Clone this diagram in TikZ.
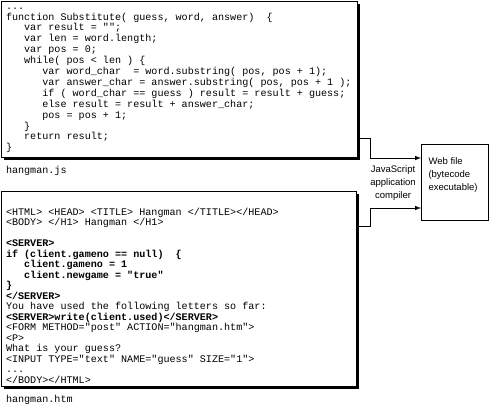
\documentclass[tikz,border=0pt]{standalone}
\usepackage{fontspec}
\setmainfont{Liberation Sans}
\setmonofont{Liberation Mono}
\usetikzlibrary{arrows,shadows,positioning}

\begin{document}
\begin{tikzpicture}[x=1pt, y=-1pt, line width=1pt]
	\tikzstyle{every node} = [inner sep=0pt, anchor=north west]
	\tikzstyle{shadowbox} = [draw, fill=white, drop shadow={shadow xshift=2pt, shadow yshift=-2pt, opacity=1, fill=black}]
	\tikzstyle{code} = [align=left, font=\ttfamily\fontsize{10.1}{10.9}\selectfont]
	\tikzstyle{label} = [anchor=base west, font=\ttfamily\fontsize{10.1}{10.9}\selectfont]
\useasboundingbox (0,0) rectangle (489,405);
\node[shadowbox, minimum width=356, minimum height=156] (js) at (1,1) {};
\node[shadowbox, minimum width=355, minimum height=195] (htm) at (1,191) {};
\node[draw, minimum width=67, minimum height=76] (web) at (421,144) {};
\node[code] (jscode) at (5.5,1) {\strut...\\
function Substitute( guess, word, answer)~ \{\\
~~~var result = "";\\
~~~var len = word.length;\\
~~~var pos = 0;\\
~~~while( pos < len ) \{\\
~~~~~~var word\_char~ = word.substring( pos, pos + 1);\\
~~~~~~var answer\_char = answer.substring( pos, pos + 1 );\\
~~~~~~if ( word\_char == guess ) result = result + guess;\\
~~~~~~else result = result + answer\_char;\\
~~~~~~pos = pos + 1;\\
~~~\}\\
~~~return result;\\
\}};
\node[code, font=\ttfamily\fontsize{10.1}{10.5}\selectfont] (htmcode) at (5.5,207.6) {\strut<HTML> <HEAD> <TITLE> Hangman </TITLE></HEAD>\\
<BODY> </H1> Hangman </H1>\\
\\
\textbf{<SERVER>}\\
\textbf{if (client.gameno == null)~ \{}\\
\textbf{~~~client.gameno = 1}\\
\textbf{~~~client.newgame = "true"}\\
\textbf{\}}\\
\textbf{</SERVER>}\\
You have used the following letters so far:\\
\textbf{<SERVER>write(client.used)</SERVER>}\\
<FORM METHOD="post" ACTION="hangman.htm">\\
<P>\\
What is your guess?\\
<INPUT TYPE="text" NAME="guess" SIZE="1">\\
...\\
</BODY></HTML>};
\node[label] (jsname) at (5.5,173.5) {hangman.js};
\node[label] (htmname) at (5.5,402) {hangman.htm};
\node[anchor=center, align=center, font=\fontsize{9.5}{13}\selectfont] (compiler) at (393,183) {JavaScript\\application\\compiler};
\node[align=left, font=\fontsize{9.5}{13}\selectfont] (webtext) at (428,154.4) {\strut Web file\\(bytecode\\executable)};
	\draw[-latex] ([yshift=20pt]js.south east) -- ++(12,0) |- ([yshift=-14pt]web.north west);
	\draw[-latex] ([yshift=-35pt]htm.north east) -- ++(13,0) |- ([yshift=-64pt]web.north west);
\end{tikzpicture}
\end{document}
